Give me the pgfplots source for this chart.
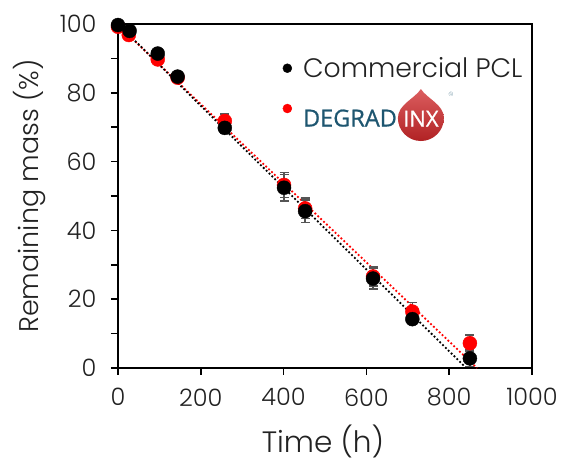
\documentclass[border=0pt]{standalone}
\usepackage{pgfplots}
\pgfplotsset{compat=1.18}
\usetikzlibrary{calc}
\usepackage{fontspec}
\setmainfont{Poppins}[UprightFont=* Light]
\newfontfamily\logofont{Open Sans}[FakeBold=0.8]
\definecolor{txt}{HTML}{222222}
\definecolor{degteal}{HTML}{1E5670}
\definecolor{degred}{HTML}{D0282A}
\definecolor{errgray}{HTML}{555555}
\newsavebox\inxbox

\pgfplotstableread{
t m e
0 99.7 0.5
28 98.0 1.0
96 91.4 1.2
144 84.7 1.0
258 69.8 1.5
401 52.4 3.8
452 45.6 3.3
616 26.0 3.0
711 14.2 1.5
850 2.8 2.4
}\pcl

\pgfplotstableread{
t m e
0 99.2 0.5
26 96.8 1.0
96 89.7 1.0
144 84.4 1.0
258 71.8 2.0
401 53.2 3.6
452 46.4 3.0
616 26.6 2.8
711 16.4 2.6
850 7.2 2.4
}\degradinx

\begin{document}
\sbox\inxbox{\begin{tikzpicture}[baseline=0pt]
  \shade[top color=degred!75!white, bottom color=degred!85!black]
    (0,37.5pt) .. controls (6pt,28pt) and (23pt,22pt) .. (23pt,8.5pt)
    arc[start angle=0, end angle=-180, radius=23pt]
    .. controls (-23pt,22pt) and (-6pt,28pt) .. (0,37.5pt) -- cycle;
  \node[text=white, inner sep=0pt, anchor=base, font=\logofont\fontsize{22}{24}\selectfont] at (0,0) {INX};
  \node[text=degteal, inner sep=0pt, font=\fontsize{6}{7}\selectfont] at (30pt,32pt) {©};
\end{tikzpicture}}%
\begin{tikzpicture}
  \begin{axis}[
    width=414pt, height=344pt, scale only axis,
    xmin=0, xmax=1000, ymin=0, ymax=100,
    xtick={0,200,...,1000}, ytick={0,20,...,100},
    minor y tick num=1,
    xtick pos=bottom, ytick pos=left,
    xtick align=outside, ytick align=outside,
    major tick length=7pt, minor tick length=7pt,
    every tick/.style={line width=1.5pt, black},
    axis line style={line width=1.5pt},
    ticklabel style={font=\fontsize{24}{28}\selectfont, text=txt},
    xticklabel style={yshift=-10pt},
    yticklabel style={xshift=-11pt},
    /pgf/number format/assume math mode=true,
    /pgf/number format/1000 sep={},
    xlabel={Time (h)}, ylabel={Remaining mass (\%)},
    every axis x label/.style={at={(rel axis cs:0.495,-0.214)}, anchor=center,
      font=\fontsize{29.5}{34}\selectfont, text=txt},
    every axis y label/.style={at={(rel axis cs:-0.2126,0.5)}, rotate=90, anchor=center,
      font=\fontsize{27}{32}\selectfont, text=txt},
    legend style={draw=none, fill=none, at={(rel axis cs:0.39,0.915)}, anchor=north west,
      font=\fontsize{26.7}{30}\selectfont, text=txt, row sep=6pt,
      /tikz/every odd column/.append style={column sep=9pt}},
    legend cell align=left,
    legend image code/.code={\fill (0.2cm,0) circle (4.5pt);},
    reverse legend,
    clip=false,
  ]
    \addplot[red, dash pattern=on 1.8pt off 2.2pt, line width=1.8pt, forget plot] coordinates {(0,99.7) (867,0)};
    \addplot[black, dash pattern=on 1.8pt off 2.2pt, line width=1.8pt, forget plot] coordinates {(0,100) (841,0)};

    \addplot[red, only marks, mark=*, mark size=7pt,
      error bars/.cd, y dir=both, y explicit,
      error bar style={errgray, line width=1.5pt},
      error mark options={errgray, line width=1.5pt, mark size=4.5pt, rotate=90}]
      table[x=t, y=m, y error=e] {\degradinx};
    \addlegendentry{{\logofont\fontsize{23.5}{28}\selectfont\color{degteal}DEGRAD}\hspace{1pt}\usebox\inxbox}

    \addplot[black, only marks, mark=*, mark size=7pt,
      error bars/.cd, y dir=both, y explicit,
      error bar style={errgray, line width=1.5pt},
      error mark options={errgray, line width=1.5pt, mark size=4.5pt, rotate=90}]
      table[x=t, y=m, y error=e] {\pcl};
    \addlegendentry{Commercial PCL}

    \coordinate (bl) at (rel axis cs:0,0);
    \coordinate (tr) at (rel axis cs:1,1);
  \end{axis}
  \pgfresetboundingbox
  \path[use as bounding box] ($(bl)+(-118pt,-94pt)$) rectangle ($(tr)+(39pt,24pt)$);
\end{tikzpicture}
\end{document}
